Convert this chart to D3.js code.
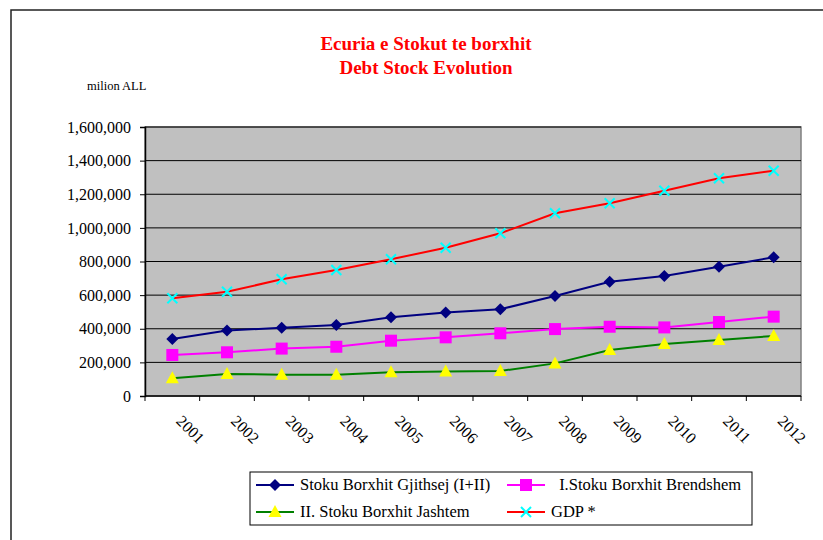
<!DOCTYPE html>
<meta charset="utf-8">
<script src="https://d3js.org/d3.v7.min.js"></script>
<style>
body { margin: 0; background: #fff; }
svg text { font-family: "Liberation Serif", "Times New Roman", serif; }
</style>
<div id="chart"></div>
<script>

// data (milion ALL)
var years = ["2001","2002","2003","2004","2005","2006","2007","2008","2009","2010","2011","2012"];
var total    = [339000, 389000, 406000, 422000, 468000, 496000, 516000, 595000, 680000, 714000, 769000, 825000];
var domestic = [244000, 260000, 282000, 293000, 329000, 349000, 373000, 398000, 412000, 408000, 440000, 472000];
var external = [105000, 131000, 127000, 127000, 141000, 145000, 149000, 194000, 274000, 309000, 333000, 357000];
var gdp      = [581000, 620000, 694000, 749000, 813000, 882000, 968000, 1087000, 1146000, 1221000, 1295000, 1340000];
var yTicks = [0, 200000, 400000, 600000, 800000, 1000000, 1200000, 1400000, 1600000];

var series = [
  {name: "Stoku Borxhit Gjithsej (I+II)", values: total,    line: "#000080", marker: "diamond",  fill: "#000080"},
  {name: " I.Stoku Borxhit Brendshem",    values: domestic, line: "#ff00ff", marker: "square",   fill: "#ff00ff"},
  {name: "II. Stoku Borxhit Jashtem",     values: external, line: "#008000", marker: "triangle", fill: "#ffff00"},
  {name: "GDP *",                         values: gdp,      line: "#ff0000", marker: "cross",    fill: "#00ffff"}
];

var W = 823, H = 540;
var plot = {left: 145, top: 127, right: 801, bottom: 396};
var serif = "'Liberation Serif', 'Times New Roman', serif";

var svg = d3.select("#chart").append("svg")
  .attr("width", W)
  .attr("height", H);

// outer frame (runs off the right/bottom edge like the source)
svg.append("rect")
  .attr("x", 11).attr("y", 10)
  .attr("width", W + 10).attr("height", H + 10)
  .attr("fill", "#fff")
  .attr("stroke", "#222")
  .attr("stroke-width", 1.5);

// titles
svg.append("text")
  .attr("x", 426).attr("y", 50)
  .attr("text-anchor", "middle")
  .attr("font-size", "19px").attr("font-weight", "bold")
  .attr("fill", "#ff0000")
  .text("Ecuria e Stokut te borxhit");
svg.append("text")
  .attr("x", 426).attr("y", 74)
  .attr("text-anchor", "middle")
  .attr("font-size", "19px").attr("font-weight", "bold")
  .attr("fill", "#ff0000")
  .text("Debt Stock Evolution");
svg.append("text")
  .attr("x", 87).attr("y", 90)
  .attr("font-size", "12.5px")
  .attr("fill", "#000")
  .text("milion ALL");

var x = d3.scaleBand()
  .domain(years)
  .range([plot.left, plot.right]);

var y = d3.scaleLinear()
  .domain([0, 1600000])
  .range([plot.bottom, plot.top]);

// plot area
svg.append("rect")
  .attr("x", plot.left).attr("y", plot.top)
  .attr("width", plot.right - plot.left)
  .attr("height", plot.bottom - plot.top)
  .attr("fill", "#c0c0c0")
  .attr("stroke", "#808080")
  .attr("stroke-width", 1.5);

// grid lines
svg.selectAll(".grid")
  .data(yTicks.slice(1))
  .enter().append("line")
    .attr("x1", plot.left).attr("x2", plot.right)
    .attr("y1", function(d) { return y(d); })
    .attr("y2", function(d) { return y(d); })
    .attr("stroke", "#000")
    .attr("stroke-width", 1);

// y axis
var yAxis = svg.append("g")
  .attr("transform", "translate(" + plot.left + ",0)")
  .call(d3.axisLeft(y).tickValues(yTicks).tickFormat(d3.format(",")).tickSize(5).tickPadding(9));
yAxis.attr("font-family", serif);
yAxis.select(".domain").attr("stroke", "#000").attr("stroke-width", 1.5);
yAxis.selectAll(".tick line").attr("stroke", "#000");
yAxis.selectAll("text").attr("font-size", "16px").attr("fill", "#000");

// x axis: ticks between categories
var xAxis = svg.append("g")
  .attr("transform", "translate(0," + plot.bottom + ")");
xAxis.append("line")
  .attr("x1", plot.left).attr("x2", plot.right)
  .attr("stroke", "#000").attr("stroke-width", 1.5);
xAxis.selectAll(".xt")
  .data(years.concat(["end"]))
  .enter().append("line")
    .attr("x1", function(d, i) { return plot.left + i * x.step(); })
    .attr("x2", function(d, i) { return plot.left + i * x.step(); })
    .attr("y1", 0).attr("y2", 5)
    .attr("stroke", "#000");
xAxis.selectAll(".xl")
  .data(years)
  .enter().append("text")
    .attr("transform", function(d) {
      return "translate(" + (x(d) + x.bandwidth() / 2 + 3) + ",26) rotate(45)";
    })
    .attr("font-size", "16px")
    .attr("fill", "#000")
    .text(function(d) { return d; });

var line = d3.line()
  .x(function(d, i) { return x(years[i]) + x.bandwidth() / 2; })
  .y(function(d) { return y(d); });

function marker(g, type, fill, cx, cy) {
  if (type === "diamond") {
    g.append("path")
      .attr("d", "M" + cx + "," + (cy - 6) + "L" + (cx + 6) + "," + cy + "L" + cx + "," + (cy + 6) + "L" + (cx - 6) + "," + cy + "Z")
      .attr("fill", fill);
  } else if (type === "square") {
    g.append("rect")
      .attr("x", cx - 6).attr("y", cy - 6)
      .attr("width", 12).attr("height", 12)
      .attr("fill", fill);
  } else if (type === "triangle") {
    g.append("path")
      .attr("d", "M" + cx + "," + (cy - 7) + "L" + (cx + 6.5) + "," + (cy + 5) + "L" + (cx - 6.5) + "," + (cy + 5) + "Z")
      .attr("fill", fill);
  } else {
    g.append("path")
      .attr("d", "M" + (cx - 5) + "," + (cy - 5) + "L" + (cx + 5) + "," + (cy + 5) + "M" + (cx - 5) + "," + (cy + 5) + "L" + (cx + 5) + "," + (cy - 5))
      .attr("stroke", fill).attr("stroke-width", 2).attr("fill", "none");
  }
}

series.forEach(function(s) {
  svg.append("path")
    .datum(s.values)
    .attr("fill", "none")
    .attr("stroke", s.line)
    .attr("stroke-width", 2)
    .attr("d", line);
  var g = svg.append("g");
  s.values.forEach(function(v, i) {
    marker(g, s.marker, s.fill, x(years[i]) + x.bandwidth() / 2, y(v));
  });
});

// legend
var legend = svg.append("g");
legend.append("rect")
  .attr("x", 250).attr("y", 472)
  .attr("width", 502).attr("height", 53)
  .attr("fill", "#fff")
  .attr("stroke", "#000").attr("stroke-width", 1);

var legendPos = [
  {x: 256, y: 485, tx: 300},
  {x: 507, y: 485, tx: 555},
  {x: 256, y: 512, tx: 300},
  {x: 507, y: 512, tx: 551}
];
series.forEach(function(s, i) {
  var p = legendPos[i];
  legend.append("line")
    .attr("x1", p.x).attr("x2", p.x + 38)
    .attr("y1", p.y).attr("y2", p.y)
    .attr("stroke", s.line).attr("stroke-width", 2);
  marker(legend, s.marker, s.fill, p.x + 19, p.y);
  legend.append("text")
    .attr("x", p.tx).attr("y", p.y + 5)
    .attr("font-size", "16.5px")
    .attr("fill", "#000")
    .attr("xml:space", "preserve")
    .style("white-space", "pre")
    .text(s.name);
});

</script>
